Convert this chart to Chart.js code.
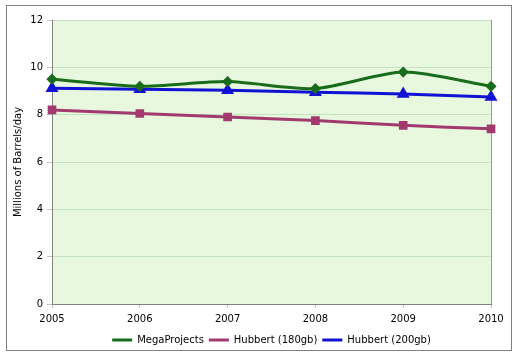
<!DOCTYPE html>
<html><head><meta charset="utf-8">
<script src="https://cdn.jsdelivr.net/npm/chart.js@4"></script>
<style>html,body{margin:0;padding:0;background:#fff}#wrap{width:519px;height:357px}</style>
</head><body><div id="wrap"><canvas id="c" width="519" height="357"></canvas></div>
<script>
const years = ["2005","2006","2007","2008","2009","2010"];
const megaProjects = [9.5, 9.2, 9.4, 9.1, 9.8, 9.2];
const hubbert180 = [8.2, 8.05, 7.9, 7.75, 7.55, 7.4];
const hubbert200 = [9.12, 9.07, 9.03, 8.95, 8.87, 8.75];
const yTicks = [0, 2, 4, 6, 8, 10, 12];

const FONT = "'DejaVu Sans', Verdana, sans-serif";
Chart.defaults.font.family = FONT;
Chart.defaults.font.size = 10;
Chart.defaults.color = '#000';

function marker(ctx, style, x, y, r) {
  ctx.beginPath();
  if (style === 'rectRot') {
    ctx.moveTo(x, y - r); ctx.lineTo(x + r, y); ctx.lineTo(x, y + r); ctx.lineTo(x - r, y);
  } else if (style === 'rect') {
    ctx.rect(x - r * 0.8, y - r * 0.8, r * 1.6, r * 1.6);
  } else {
    ctx.moveTo(x, y - r); ctx.lineTo(x + r * 0.9, y + r * 0.6); ctx.lineTo(x - r * 0.9, y + r * 0.6);
  }
  ctx.closePath();
  ctx.fill();
}

const bgPlugin = {
  id: 'bg',
  afterLayout(chart) {
    const lg = chart.legend;
    if (lg) {
      lg.left += 42;
      if (lg.adjustHitBoxes) lg.adjustHitBoxes();
    }
  },
  beforeDraw(chart) {
    const ctx = chart.ctx, a = chart.chartArea;
    ctx.save();
    ctx.fillStyle = '#fff';
    ctx.fillRect(0, 0, chart.width, chart.height);
    ctx.strokeStyle = '#808080';
    ctx.lineWidth = 1;
    ctx.strokeRect(6.5, 5.5, 505, 345);
    ctx.fillStyle = '#e7f8df';
    ctx.fillRect(a.left, a.top, a.right - a.left, a.bottom - a.top);
    ctx.strokeStyle = '#999';
    ctx.beginPath();
    ctx.moveTo(a.right + 0.5, a.top);
    ctx.lineTo(a.right + 0.5, a.bottom);
    ctx.stroke();
    ctx.restore();
  },
  afterDraw(chart) {
    const lg = chart.legend, ctx = chart.ctx;
    if (!lg || !lg.legendHitBoxes) return;
    const ds = chart.data.datasets;
    ctx.save();
    lg.legendHitBoxes.forEach((hb, i) => {
      const d = ds[i];
      ctx.fillStyle = d.backgroundColor;
      marker(ctx, d.pointStyle, hb.left + 10, hb.top + hb.height / 2, d.pointRadius - 0.5);
    });
    ctx.restore();
  }
};

new Chart(document.getElementById('c'), {
  type: 'line',
  data: {
    labels: years,
    datasets: [
      { label: 'MegaProjects', data: megaProjects, borderColor: '#186c1a', backgroundColor: '#186c1a',
        pointStyle: 'rectRot', pointRadius: 3.5, borderWidth: 3, tension: 0.25 },
      { label: 'Hubbert (180gb)', data: hubbert180, borderColor: '#a33a6f', backgroundColor: '#a33a6f',
        pointStyle: 'rect', pointRadius: 4, borderWidth: 3, tension: 0.25 },
      { label: 'Hubbert (200gb)', data: hubbert200, borderColor: '#1212d4', backgroundColor: '#1212d4',
        pointStyle: 'triangle', pointRadius: 4.5, borderWidth: 3, tension: 0.25 }
    ]
  },
  options: {
    responsive: false,
    animation: false,
    layout: { padding: { left: 10, right: 28, top: 20, bottom: 2 } },
    plugins: {
      legend: {
        position: 'bottom',
        labels: {
          boxWidth: 20, boxHeight: 3, padding: 5, font: { size: 10, family: FONT },
          generateLabels(chart) {
            return Chart.defaults.plugins.legend.labels.generateLabels(chart).map(l => Object.assign(l, { lineWidth: 0 }));
          }
        }
      },
      tooltip: { enabled: false }
    },
    scales: {
      x: {
        offset: false,
        grid: { display: true, drawOnChartArea: false, drawTicks: true, tickLength: 4, color: '#c0c0c0' },
        border: { color: '#808080' },
        ticks: { maxRotation: 0, autoSkip: false, padding: 5, font: { size: 10 } },
        afterFit(s) { s.height = 26; }
      },
      y: {
        min: 0, max: 12,
        afterBuildTicks(s) { s.ticks = yTicks.map(v => ({ value: v })); },
        grid: { color: '#c6e3bf', tickLength: 5, tickColor: '#c0c0c0' },
        border: { color: '#808080' },
        ticks: { padding: 4, font: { size: 10 } },
        title: { display: true, text: 'Millions of Barrels/day', font: { size: 10 }, padding: 2 },
        afterFit(s) { s.width = 42; }
      }
    }
  },
  plugins: [bgPlugin]
});
</script>
</body></html>
